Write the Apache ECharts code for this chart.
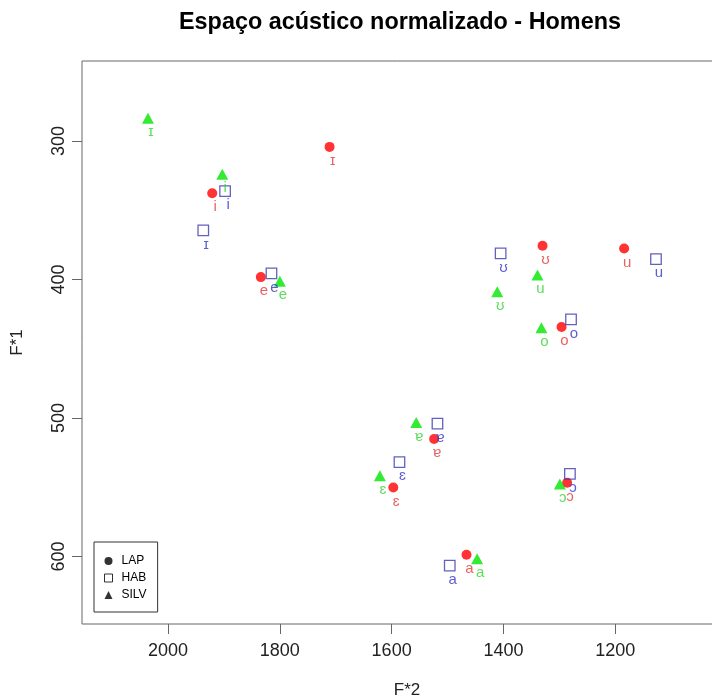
<!DOCTYPE html>
<html>
<head>
<meta charset="utf-8">
<script src="https://cdn.jsdelivr.net/npm/echarts@6/dist/echarts.min.js"></script>
<style>
html,body{margin:0;padding:0;background:#fff;}
#chart{width:712px;height:698px;}
</style>
</head>
<body>
<div id="chart"></div>
<script>
// Vowel labels (same order in every series)
const vowels = ['i', 'ɪ', 'e', 'ɛ', 'a', 'ɐ', 'ɔ', 'o', 'ʊ', 'u'];

// LAP (red circles)
const lapF2 = [1921, 1711, 1834, 1597, 1466, 1524, 1286, 1296, 1330, 1184];
const lapF1 = [337.7, 304.3, 398.3, 550.2, 598.7, 515.1, 546.8, 434.3, 375.7, 377.6];

// HAB (blue open squares)
const habF2 = [1898, 1937, 1815, 1586, 1496, 1518, 1281, 1279, 1405, 1127];
const habF1 = [336.3, 364.6, 395.6, 531.9, 606.6, 504.0, 540.3, 428.8, 381.2, 385.3];

// SILV (green triangles)
const silvF2 = [1903, 2036, 1800, 1621, 1447, 1556, 1299, 1332, 1411, 1339];
const silvF1 = [324.0, 283.6, 401.2, 541.7, 601.6, 503.3, 547.7, 434.8, 408.9, 396.8];

// Tick labels
const xTicks = [1200, 1400, 1600, 1800, 2000];
const yTicks = [300, 400, 500, 600];

const FONT = "'Liberation Sans', Arial, 'DejaVu Sans', sans-serif";
const LABEL_FONT = "'Liberation Sans', 'DejaVu Sans', sans-serif";

function pts(f2, f1) {
  return f2.map((x, i) => ({ value: [x, f1[i]], name: vowels[i] }));
}

function labelCfg(color) {
  return {
    show: true,
    position: 'inside',
    offset: [3, 14],
    formatter: p => p.name,
    color: color,
    fontSize: 15,
    fontFamily: LABEL_FONT,
    align: 'center',
    verticalAlign: 'middle'
  };
}

const chart = echarts.init(document.getElementById('chart'), null, { renderer: 'canvas' });

chart.setOption({
  animation: false,
  backgroundColor: '#fff',
  title: {
    text: 'Espaço acústico normalizado - Homens',
    left: 179,
    top: 11,
    padding: 0,
    textStyle: { fontSize: 23.4, fontWeight: 'bold', color: '#000', fontFamily: FONT }
  },
  legend: {
    orient: 'vertical',
    left: 94,
    top: 542,
    padding: [13, 11, 11, 10],
    itemGap: 5,
    itemWidth: 8,
    itemHeight: 8,
    borderColor: '#333',
    borderWidth: 1,
    textStyle: { fontSize: 12, color: '#000', fontFamily: FONT, padding: [0, 0, 0, 4] },
    data: [
      { name: 'LAP', icon: 'circle', itemStyle: { color: '#000', borderWidth: 0 } },
      { name: 'HAB', icon: 'rect', itemStyle: { color: '#fff', borderColor: '#000', borderWidth: 1 } },
      { name: 'SILV', icon: 'triangle', itemStyle: { color: '#000', borderWidth: 0 } }
    ]
  },
  grid: {
    left: 82,
    top: 61,
    right: -20,
    bottom: 74,
    show: true,
    borderColor: '#666',
    borderWidth: 1,
    backgroundColor: 'transparent',
    outerBoundsMode: 'none'
  },
  xAxis: {
    type: 'value',
    inverse: true,
    min: 991,
    max: 2154,
    name: 'F*2',
    nameLocation: 'middle',
    nameGap: 58,
    nameTextStyle: { fontSize: 17, color: '#222', fontFamily: FONT },
    axisLine: { show: false },
    splitLine: { show: false },
    axisTick: { show: true, length: 10, lineStyle: { color: '#666' }, customValues: xTicks },
    axisLabel: { fontSize: 18, color: '#222', margin: 18, fontFamily: FONT, customValues: xTicks, formatter: v => String(v) }
  },
  yAxis: {
    type: 'value',
    inverse: true,
    min: 242.3,
    max: 648.7,
    name: 'F*1',
    nameLocation: 'middle',
    nameGap: 56,
    nameRotate: 90,
    nameTextStyle: { fontSize: 17, color: '#222', fontFamily: FONT },
    axisLine: { show: false },
    splitLine: { show: false },
    axisTick: { show: true, length: 10, lineStyle: { color: '#666' }, customValues: yTicks },
    axisLabel: { fontSize: 18, color: '#222', margin: 14, rotate: 90, fontFamily: FONT, customValues: yTicks, formatter: v => String(v) }
  },
  series: [
    {
      name: 'LAP',
      type: 'scatter',
      symbol: 'circle',
      symbolSize: 10,
      itemStyle: { color: '#ff0000' },
      label: labelCfg('#e23b3b'),
      data: pts(lapF2, lapF1)
    },
    {
      name: 'HAB',
      type: 'scatter',
      symbol: 'rect',
      symbolSize: 10.5,
      itemStyle: { color: 'rgba(255,255,255,0)', borderColor: '#3a3ab0', borderWidth: 1.3 },
      label: labelCfg('#3535c8'),
      data: pts(habF2, habF1)
    },
    {
      name: 'SILV',
      type: 'scatter',
      symbol: 'triangle',
      symbolSize: [12, 11],
      itemStyle: { color: '#00e600' },
      label: labelCfg('#33d633'),
      data: pts(silvF2, silvF1)
    }
  ]
});
</script>
</body>
</html>
